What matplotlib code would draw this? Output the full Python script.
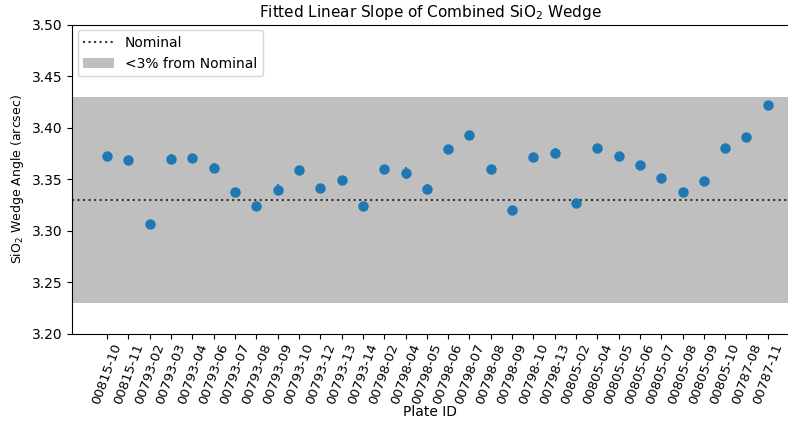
import matplotlib
matplotlib.use('Agg')
import matplotlib.pyplot as plt
import numpy as np

plate_ids = ['00815-10', '00815-11', '00793-02', '00793-03', '00793-04', '00793-06',
             '00793-07', '00793-08', '00793-09', '00793-10', '00793-12', '00793-13',
             '00793-14', '00798-02', '00798-04', '00798-05', '00798-06', '00798-07',
             '00798-08', '00798-09', '00798-10', '00798-13', '00805-02', '00805-04',
             '00805-05', '00805-06', '00805-07', '00805-08', '00805-09', '00805-10',
             '00787-08', '00787-11']
slopes = [3.373, 3.369, 3.307, 3.370, 3.371, 3.361, 3.338, 3.324, 3.340, 3.359,
          3.342, 3.349, 3.324, 3.360, 3.356, 3.341, 3.379, 3.393, 3.360, 3.320,
          3.372, 3.376, 3.327, 3.380, 3.373, 3.364, 3.351, 3.338, 3.348, 3.380,
          3.391, 3.422]
errors = [0.002, 0.002, 0.003, 0.005, 0.004, 0.005, 0.003, 0.003, 0.005, 0.002,
          0.003, 0.003, 0.002, 0.004, 0.006, 0.004, 0.004, 0.002, 0.002, 0.004,
          0.003, 0.004, 0.002, 0.002, 0.002, 0.002, 0.002, 0.002, 0.002, 0.002,
          0.003, 0.004]
nominal = 3.33
tolerance = 0.03

fig = plt.figure(figsize=(7.88, 4.21), dpi=100)
ax = fig.add_axes([0.0914, 0.207, 0.9086, 0.734])

x = np.arange(len(plate_ids))
ax.axhspan(nominal * (1 - tolerance), nominal * (1 + tolerance), color='gray', alpha=0.5,
           lw=0, label='<3% from Nominal')
ax.axhline(nominal, color='#333333', ls=':', lw=1.5, label='Nominal')
ax.errorbar(x, slopes, yerr=errors, fmt='o', color='#1f77b4', ms=6.5, elinewidth=1.5)

ax.set_xticks(x)
ax.set_xticklabels(plate_ids, rotation=70, fontsize=9.5)
ax.set_xlim(-1.65, 31.95)
ax.set_ylim(3.20, 3.50)
ax.set_yticks([3.20, 3.25, 3.30, 3.35, 3.40, 3.45, 3.50])
ax.set_yticklabels(['3.20', '3.25', '3.30', '3.35', '3.40', '3.45', '3.50'])
ax.tick_params(axis='y', labelsize=10)
ax.tick_params(axis='x', pad=2)
ax.spines['right'].set_visible(False)
ax.set_xlabel('Plate ID', fontsize=10, labelpad=-1)
ax.set_ylabel('SiO$_2$ Wedge Angle (arcsec)', fontsize=9)
ax.set_title('Fitted Linear Slope of Combined SiO$_2$ Wedge', fontsize=11)

handles, labels = ax.get_legend_handles_labels()
ax.legend(handles[::-1], labels[::-1], loc='upper left', fontsize=10,
          borderaxespad=0.4, handlelength=2.2)

fig.savefig('out.png', dpi=100)
